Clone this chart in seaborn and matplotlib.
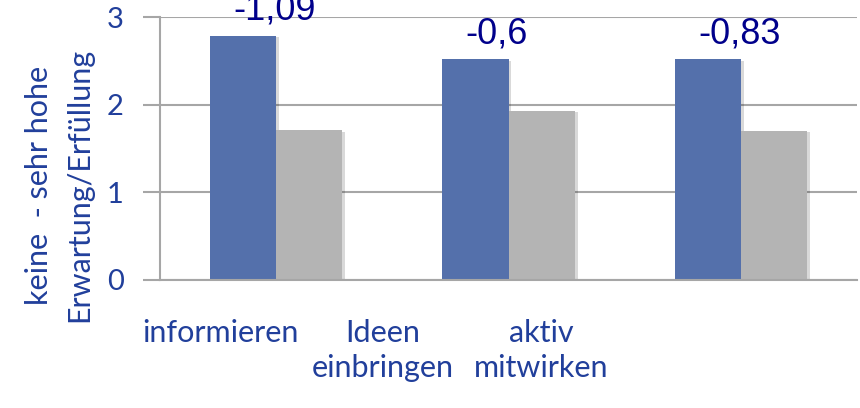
import numpy as np
import pandas as pd
import matplotlib
matplotlib.use('Agg')
import matplotlib.pyplot as plt
import matplotlib.patheffects as pe
import seaborn as sns

# 데이터
kategorien = ['informieren', 'Ideen\neinbringen', 'aktiv\nmitwirken']
erwartung = [2.79, 2.52, 2.52]
erfuellung = [1.71, 1.93, 1.70]
differenz = ['-1,09', '-0,6', '-0,83']

df = pd.DataFrame({
    'kat': kategorien * 2,
    'wert': erwartung + erfuellung,
    'serie': ['Erwartung'] * 3 + ['Erfüllung'] * 3,
})

sns.set_style('white')
plt.rcParams['font.family'] = ['Lato', 'DejaVu Sans']

blau = '#5470AB'
grau = '#B4B4B4'
textblau = '#213F9B'
gitter = '#A6A6A6'

fig = plt.figure(figsize=(8.6, 4.08), dpi=100)
ax = fig.add_axes([0.186, 0.314, 0.811, 0.644])

sns.barplot(data=df, x='kat', y='wert', hue='serie', palette=[blau, grau],
            width=0.57, ax=ax, legend=False, saturation=1, linewidth=0)

for p in ax.patches:
    p.set_path_effects([pe.SimplePatchShadow(offset=(2, -1), alpha=0.15, shadow_rgbFace='k'),
                        pe.Normal()])

ax.set_xlim(-0.5, 2.5)
ax.set_ylim(0, 3)
ax.set_yticks([0, 1, 2, 3])
ax.yaxis.grid(True, color=gitter, linewidth=1.5)
ax.set_axisbelow(True)

# Differenz-Beschriftung über den Gruppen
for i, (w, d) in enumerate(zip(erwartung, differenz)):
    ax.text(i - 0.185, w + 0.18, d, ha='left', va='baseline', fontsize=26,
            color='#00008B', family=['Liberation Sans', 'DejaVu Sans'], clip_on=False)

# x-Achse: Trennstriche zwischen den Kategorien, Beschriftungen links versetzt
ax.set_xticks([-0.5, 0.5, 1.5, 2.5], minor=True)
ax.tick_params(axis='x', which='minor', length=13, width=1.5, color=gitter, direction='out')
ax.set_xticks([-0.24, 0.46, 1.14])
ax.set_xticklabels(kategorien, fontsize=22, color=textblau, linespacing=1.3)
ax.tick_params(axis='x', which='major', length=0, pad=28)

ax.tick_params(axis='y', length=12, width=1.5, color=gitter, direction='out',
               labelsize=21, labelcolor=textblau, pad=14)
ax.tick_params(axis='y', which='major', left=True)

for s in ['top', 'right']:
    ax.spines[s].set_visible(False)
for s in ['left', 'bottom']:
    ax.spines[s].set_color(gitter)
    ax.spines[s].set_linewidth(1.5)

ax.set_xlabel('')
ax.set_ylabel('keine  - sehr hohe\nErwartung/Erfüllung', fontsize=22, color=textblau,
              linespacing=1.55)
ax.yaxis.set_label_coords(-0.095, 0.36)

fig.savefig('out.png', dpi=100)
